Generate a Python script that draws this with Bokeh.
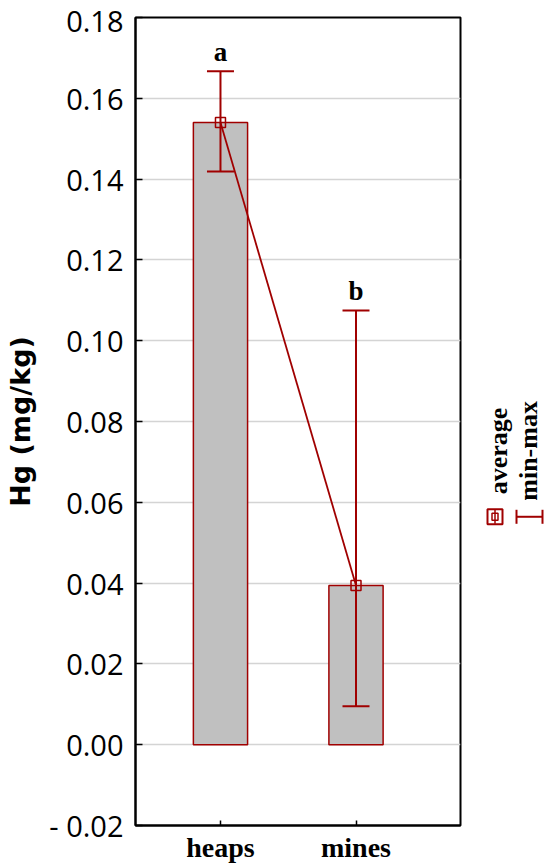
from bokeh.plotting import figure
from bokeh.layouts import row
from bokeh.models import (ColumnDataSource, Range1d, FixedTicker, NumeralTickFormatter,
                          Whisker, TeeHead)
from bokeh.core.properties import value
from bokeh.embed import file_html
from bokeh.resources import INLINE
import math

# ---- data ----
categories = ["heaps", "mines"]
average = [0.1540, 0.0394]
minimum = [0.1419, 0.0095]
maximum = [0.1667, 0.1075]
letters = ["a", "b"]
y_ticks = [-0.02, 0.00, 0.02, 0.04, 0.06, 0.08, 0.10, 0.12, 0.14, 0.16, 0.18]

DARK_RED = "#a00000"
BAR_GRAY = "#c0c0c0"

xs = [i + 1 for i in range(len(categories))]
src = ColumnDataSource(dict(x=xs, avg=average, lo=minimum, hi=maximum, lab=letters))

H = 865
p = figure(width=470, height=H, output_backend="svg", toolbar_location=None,
           x_range=Range1d(0.373, 2.771), y_range=Range1d(-0.02, 0.18),
           min_border_left=135, min_border_right=10, min_border_top=17,
           min_border_bottom=H - 826)

# grid
p.xgrid.visible = False
p.ygrid.grid_line_color = "#d4d4d4"
p.ygrid.grid_line_width = 1.5
p.outline_line_color = "black"
p.outline_line_width = 2

# bars
p.vbar(x="x", top="avg", bottom=0, width=0.4, source=src,
       fill_color=BAR_GRAY, line_color=DARK_RED, line_width=1.5)

# error bars (min-max)
wh = Whisker(base="x", lower="lo", upper="hi", source=src, level="overlay",
             line_color=DARK_RED, line_width=2,
             upper_head=TeeHead(size=27, line_color=DARK_RED, line_width=2),
             lower_head=TeeHead(size=27, line_color=DARK_RED, line_width=2))
p.add_layout(wh)

# average line + markers
p.line(x="x", y="avg", source=src, line_color=DARK_RED, line_width=1.8)
p.scatter(x="x", y="avg", source=src, marker="square", size=10,
          line_color=DARK_RED, line_width=1.5, fill_alpha=0)

# significance letters
p.text(x="x", y="hi", text="lab", source=src, y_offset=-19,
       text_align="center", text_baseline="alphabetic",
       text_font=value("Liberation Serif"), text_font_style="bold",
       text_font_size="27px", text_color="black")

# y axis
ya = p.yaxis[0]
ya.ticker = FixedTicker(ticks=y_ticks)
ya.formatter = NumeralTickFormatter(format="0.00")
ya.major_label_overrides = {-0.02: "- 0.02"}
ya.major_label_text_font = "Open Sans"
ya.major_label_text_font_size = "29px"
ya.major_label_text_color = "black"
ya.major_label_standoff = 12
ya.major_tick_in = 7
ya.major_tick_out = 0
ya.minor_tick_line_color = None
ya.axis_line_width = 2
ya.major_tick_line_width = 1.5
ya.axis_label = "Hg (mg/kg)"
ya.axis_label_text_font = "DejaVu Sans"
ya.axis_label_text_font_style = "bold"
ya.axis_label_text_font_size = "27px"
ya.axis_label_text_color = "black"
ya.axis_label_standoff = 10

# x axis
xa = p.xaxis[0]
xa.ticker = FixedTicker(ticks=xs)
xa.major_label_overrides = {x: c for x, c in zip(xs, categories)}
xa.major_label_text_font = "Liberation Serif"
xa.major_label_text_font_style = "bold"
xa.major_label_text_font_size = "28px"
xa.major_label_text_color = "black"
xa.major_label_standoff = 6
xa.major_tick_in = 5
xa.major_tick_out = 0
xa.minor_tick_line_color = None
xa.axis_line_width = 2
xa.major_tick_line_width = 1.5

# ---- legend panel (rotated, as in the reference) ----
LW = 76
lg = figure(width=LW, height=H, output_backend="svg", toolbar_location=None,
            x_range=Range1d(0, LW), y_range=Range1d(H, 0),
            x_axis_type=None, y_axis_type=None, min_border=0)
lg.grid.visible = False
lg.outline_line_color = None

legend_labels = ["average", "min-max"]
lg.text(x=[28, 58], y=[464, 464], text=legend_labels, angle=math.pi / 2,
        text_align="center", text_baseline="middle",
        text_font=value("Liberation Serif"), text_font_style="bold",
        text_font_size="26px", text_color="black")

# average symbol
lg.rect(x=[24.5], y=[534.5], width=15, height=15, width_units="screen", height_units="screen",
        fill_alpha=0, line_color=DARK_RED, line_width=2)
lg.rect(x=[24.5], y=[534.5], width=6, height=7, width_units="screen", height_units="screen",
        fill_alpha=0, line_color=DARK_RED, line_width=1.5)
lg.segment(x0=[24.5], y0=[527], x1=[24.5], y1=[542], line_color=DARK_RED, line_width=1.5)

# min-max symbol
lg.segment(x0=[46, 46, 72], y0=[534.5, 527, 527], x1=[72, 46, 72], y1=[534.5, 542, 542],
           line_color=DARK_RED, line_width=2)

layout = row(p, lg)
open("out.html", "w").write(file_html(layout, INLINE))
